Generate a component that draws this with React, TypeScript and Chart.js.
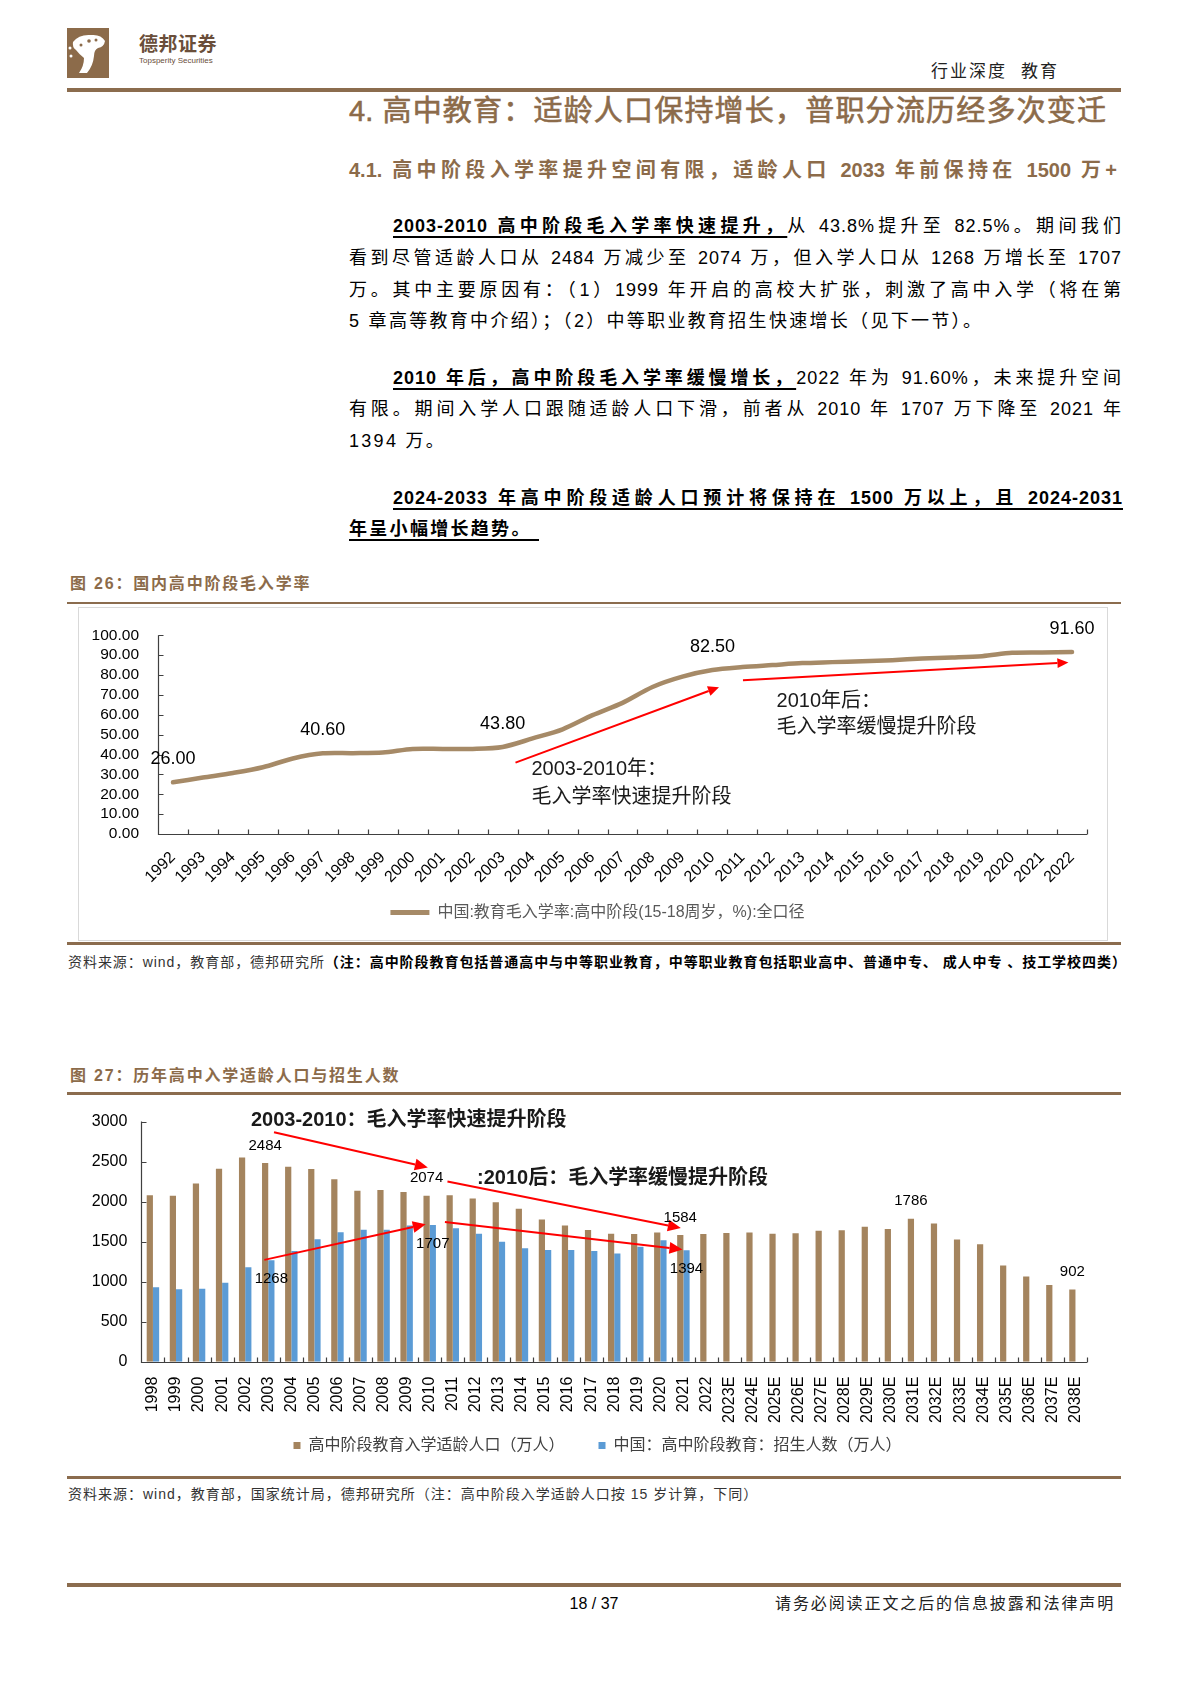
import React, { useEffect, useRef } from "react";
import { Chart, registerables } from "chart.js";

Chart.register(...registerables);

const SANS = "'Liberation Sans', Arial, 'Noto Sans CJK SC', sans-serif";
const BROWN = "#8C6B4A";
const LINE_BROWN = "#A68A67";
const BAR_BROWN = "#A4845E";
const BLUE = "#5B9BD5";
const RED = "#FF0000";
const AXIS = "#404040";

// ---------- Figure 26 data ----------
const rateYears = [
  "1992", "1993", "1994", "1995", "1996", "1997", "1998", "1999", "2000", "2001", "2002",
  "2003", "2004", "2005", "2006", "2007", "2008", "2009", "2010", "2011", "2012", "2013",
  "2014", "2015", "2016", "2017", "2018", "2019", "2020", "2021", "2022",
];
const rateValues = [
  26.0, 28.4, 30.7, 33.6, 38.0, 40.6, 40.7, 41.0, 42.8, 42.8, 42.8,
  43.8, 48.1, 52.7, 59.8, 66.0, 74.0, 79.2, 82.5, 84.0, 85.0, 86.0,
  86.5, 87.0, 87.5, 88.3, 88.8, 89.5, 91.2, 91.4, 91.6,
];
const rateSeriesName = "中国:教育毛入学率:高中阶段(15-18周岁，%):全口径";
const rateLabelIdx = [0, 5, 11, 18, 30];
// arrows: [fromCategoryIndex, fromValue, toCategoryIndex, toValue]
const rateArrows = [
  [11.43, 35.9, 18.22, 73.9],
  [19.02, 77.4, 29.88, 86.3],
];
const rateNotes = [
  { x: 11.96, y: 32.5, text: "2003-2010年：" },
  { x: 11.96, y: 18.6, text: "毛入学率快速提升阶段" },
  { x: 20.14, y: 66.8, text: "2010年后：" },
  { x: 20.14, y: 53.8, text: "毛入学率缓慢提升阶段" },
];

// ---------- Figure 27 data ----------
const popYears = [
  "1998", "1999", "2000", "2001", "2002", "2003", "2004", "2005", "2006", "2007", "2008",
  "2009", "2010", "2011", "2012", "2013", "2014", "2015", "2016", "2017", "2018", "2019",
  "2020", "2021", "2022", "2023E", "2024E", "2025E", "2026E", "2027E", "2028E", "2029E",
  "2030E", "2031E", "2032E", "2033E", "2034E", "2035E", "2036E", "2037E", "2038E",
];
const popAgeName = "高中阶段教育入学适龄人口（万人）";
const popAge = [
  2079, 2075, 2227, 2411, 2550, 2484, 2435, 2407, 2280, 2137, 2145,
  2120, 2074, 2079, 2038, 1993, 1911, 1776, 1703, 1645, 1600, 1596,
  1613, 1584, 1596, 1608, 1613, 1600, 1604, 1637, 1641, 1686,
  1658, 1786, 1727, 1527, 1469, 1203, 1064, 958, 902,
];
const enrollName = "中国：高中阶段教育：招生人数（万人）";
const enroll = [
  929, 905, 913, 986, 1179, 1268, 1383, 1531, 1617, 1650, 1650,
  1703, 1707, 1666, 1600, 1498, 1416, 1396, 1396, 1383, 1351, 1437,
  1519, 1394, null, null, null, null, null, null, null, null,
  null, null, null, null, null, null, null, null, null,
];
// value labels: [datasetIndex, categoryIndex, placement]
const popLabels: [number, number, string][] = [
  [0, 5, "above"], [0, 12, "above"], [0, 23, "above"], [0, 33, "above"], [0, 40, "above"],
  [1, 5, "below"], [1, 12, "below"], [1, 23, "below"],
];
const popArrows = [
  [5.25, 2868, 11.92, 2427],
  [12.77, 2251, 22.89, 1669],
  [4.83, 1272, 11.83, 1718],
  [12.66, 1747, 22.96, 1403],
];
const popNotes = [
  { x: 4.25, y: 3012, text: "2003-2010：毛入学率快速提升阶段" },
  { x: 14.05, y: 2283, text: ":2010后：毛入学率缓慢提升阶段" },
];

// ---------- plugins ----------
function drawArrow(ctx: any, x1: number, y1: number, x2: number, y2: number, head: number, lw: number) {
  const ang = Math.atan2(y2 - y1, x2 - x1);
  const hw = head * 0.45;
  const bx = x2 - head * Math.cos(ang);
  const by = y2 - head * Math.sin(ang);
  ctx.strokeStyle = RED;
  ctx.fillStyle = RED;
  ctx.lineWidth = lw;
  ctx.beginPath();
  ctx.moveTo(x1, y1);
  ctx.lineTo(bx, by);
  ctx.stroke();
  ctx.beginPath();
  ctx.moveTo(x2, y2);
  ctx.lineTo(bx + hw * Math.sin(ang), by - hw * Math.cos(ang));
  ctx.lineTo(bx - hw * Math.sin(ang), by + hw * Math.cos(ang));
  ctx.closePath();
  ctx.fill();
}

const insideAxes = (len: number) => ({
  id: "insideAxes",
  beforeDatasetsDraw(chart: any) {
    const { ctx, chartArea: a, scales } = chart;
    const x = scales.x;
    const y = scales.y;
    ctx.save();
    ctx.strokeStyle = AXIS;
    ctx.lineWidth = 1.2;
    ctx.beginPath();
    const bottom = Math.round(a.bottom) + 0.5;
    const left = Math.round(a.left) + 0.5;
    ctx.moveTo(left, a.top);
    ctx.lineTo(left, bottom);
    ctx.lineTo(a.right, bottom);
    y.ticks.forEach((_t: any, i: number) => {
      const py = Math.round(y.getPixelForTick(i)) + 0.5;
      ctx.moveTo(left, py);
      ctx.lineTo(left + len, py);
    });
    for (let i = 0; i <= x.ticks.length; i++) {
      const px = Math.round(x.getPixelForValue(i - 0.5)) + 0.5;
      ctx.moveTo(px, bottom);
      ctx.lineTo(px, bottom - len);
    }
    ctx.stroke();
    ctx.restore();
  },
});

const legendShift = (dx: number) => ({
  id: "legendShift",
  afterLayout(chart: any) {
    if (chart.legend) {
      chart.legend.left += dx;
      chart.legend.right += dx;
    }
  },
});

const notesPlugin = (arrows: number[][], notes: { x: number; y: number; text: string }[], font: string, head: number) => ({
  id: "notes",
  afterDatasetsDraw(chart: any) {
    const { ctx, scales } = chart;
    const x = scales.x;
    const y = scales.y;
    ctx.save();
    arrows.forEach(([a, b, c, d]) =>
      drawArrow(ctx, x.getPixelForValue(a), y.getPixelForValue(b), x.getPixelForValue(c), y.getPixelForValue(d), head, 2)
    );
    ctx.font = font;
    ctx.fillStyle = "#1a1a1a";
    ctx.textAlign = "left";
    ctx.textBaseline = "middle";
    notes.forEach((n) => ctx.fillText(n.text, x.getPixelForValue(n.x), y.getPixelForValue(n.y)));
    ctx.restore();
  },
});

const valueLabels = (items: [number, number, string][], font: string, fmt: (v: number) => string, above: number, below: number) => ({
  id: "valueLabels",
  afterDatasetsDraw(chart: any) {
    const { ctx } = chart;
    ctx.save();
    ctx.font = font;
    ctx.fillStyle = "#000";
    ctx.textAlign = "center";
    ctx.textBaseline = "middle";
    items.forEach(([ds, idx, place]) => {
      const el = chart.getDatasetMeta(ds).data[idx];
      const v = chart.data.datasets[ds].data[idx];
      if (!el || v == null) return;
      ctx.fillText(fmt(v), el.x, el.y + (place === "above" ? -above : below));
    });
    ctx.restore();
  },
});

// ---------- charts ----------
function RateChart() {
  const ref = useRef<HTMLCanvasElement>(null);
  useEffect(() => {
    const chart = new Chart(ref.current as HTMLCanvasElement, {
      type: "line",
      data: {
        labels: rateYears,
        datasets: [
          {
            label: rateSeriesName,
            data: rateValues,
            borderColor: LINE_BROWN,
            backgroundColor: LINE_BROWN,
            borderWidth: 4.5,
            tension: 0.3,
            pointRadius: 0,
            borderCapStyle: "round",
            borderJoinStyle: "round",
          } as any,
        ],
      },
      options: {
        animation: false,
        responsive: false,
        maintainAspectRatio: false,
        layout: { padding: { left: 0, right: 21, top: 21, bottom: 10.5 } },
        scales: {
          x: {
            offset: true,
            grid: { display: false, drawTicks: false },
            border: { display: false },
            ticks: {
              minRotation: 45,
              maxRotation: 45,
              autoSkip: false,
              padding: 14,
              color: "#000",
              font: { family: SANS, size: 16 },
            },
            afterFit: (s: any) => {
              s.height = 60.5;
            },
          },
          y: {
            min: 0,
            max: 100,
            grid: { display: false, drawTicks: false },
            border: { display: false },
            ticks: {
              stepSize: 10,
              autoSkip: false,
              padding: 19,
              color: "#000",
              font: { family: SANS, size: 15.5 },
              callback: (v: any) => Number(v).toFixed(2),
            },
            afterFit: (s: any) => {
              s.width = 80;
            },
          },
        },
        plugins: {
          legend: {
            position: "bottom",
            labels: {
              boxWidth: 39,
              boxHeight: 5,
              padding: 10,
              color: "#595959",
              font: { family: SANS, size: 16 },
              generateLabels: (c: any) =>
                (Chart.defaults.plugins.legend.labels as any)
                  .generateLabels(c)
                  .map((l: any) => ({ ...l, lineWidth: 0, fillStyle: LINE_BROWN })),
            },
          },
          tooltip: { enabled: false },
        },
      } as any,
      plugins: [
        insideAxes(5),
        legendShift(15),
        notesPlugin(rateArrows, rateNotes, `20px ${SANS}`, 11),
        valueLabels(
          rateLabelIdx.map((i) => [0, i, "above"] as [number, number, string]),
          `18px ${SANS}`,
          (v) => v.toFixed(2),
          23,
          0
        ),
      ],
    });
    return () => chart.destroy();
  }, []);
  return (
    <canvas
      ref={ref}
      width={1030}
      height={334}
      style={{ position: "absolute", left: 78, top: 607, width: 1030, height: 334 }}
    />
  );
}

function PopChart() {
  const ref = useRef<HTMLCanvasElement>(null);
  useEffect(() => {
    const chart = new Chart(ref.current as HTMLCanvasElement, {
      type: "bar",
      data: {
        labels: popYears,
        datasets: [
          {
            label: popAgeName,
            data: popAge,
            backgroundColor: BAR_BROWN,
            borderWidth: 0,
            categoryPercentage: 0.54,
            barPercentage: 1.0,
          },
          {
            label: enrollName,
            data: enroll,
            backgroundColor: BLUE,
            borderWidth: 0,
            categoryPercentage: 0.54,
            barPercentage: 1.0,
          },
        ],
      },
      options: {
        animation: false,
        responsive: false,
        maintainAspectRatio: false,
        layout: { padding: { left: 0, right: 34, top: 20, bottom: 6.5 } },
        scales: {
          x: {
            grid: { display: false, drawTicks: false },
            border: { display: false },
            ticks: {
              minRotation: 90,
              maxRotation: 90,
              autoSkip: false,
              padding: 15,
              color: "#000",
              font: { family: SANS, size: 16 },
            },
            afterFit: (s: any) => {
              s.height = 65.8;
            },
          },
          y: {
            min: 0,
            max: 3000,
            grid: { display: false, drawTicks: false },
            border: { display: false },
            ticks: {
              stepSize: 500,
              autoSkip: false,
              padding: 14,
              color: "#000",
              font: { family: SANS, size: 16 },
              callback: (v: any) => String(v),
            },
            afterFit: (s: any) => {
              s.width = 73.4;
            },
          },
        },
        plugins: {
          legend: {
            position: "bottom",
            labels: {
              boxWidth: 7,
              boxHeight: 7,
              padding: 10,
              color: "#404040",
              font: { family: SANS, size: 16 },
              generateLabels: (c: any) =>
                (Chart.defaults.plugins.legend.labels as any)
                  .generateLabels(c)
                  .map((l: any, i: number) => ({ ...l, text: i === 0 ? l.text + "\u3000\u3000" : l.text })),
            },
          },
          tooltip: { enabled: false },
        },
      } as any,
      plugins: [
        insideAxes(5),
        legendShift(20),
        notesPlugin(popArrows, popNotes, `bold 20px ${SANS}`, 13),
        valueLabels(popLabels, `15px ${SANS}`, (v) => String(v), 17.5, 19),
      ],
    });
    return () => chart.destroy();
  }, []);
  return (
    <canvas
      ref={ref}
      width={1053}
      height={372}
      style={{ position: "absolute", left: 68, top: 1098, width: 1053, height: 372 }}
    />
  );
}

// ---------- page helpers ----------
type TL = {
  x: number;
  y: number;
  w?: number;
  size: number;
  justify?: boolean;
  style?: React.CSSProperties;
  children: React.ReactNode;
};
function T({ x, y, w, size, justify, style, children }: TL) {
  const lh = Math.round(size * 1.4);
  return (
    <div
      style={{
        position: "absolute",
        left: x,
        top: y - lh / 2,
        width: w,
        height: lh,
        lineHeight: `${lh}px`,
        fontSize: size,
        whiteSpace: w ? "normal" : "nowrap",
        textAlign: justify ? "justify" : "left",
        textAlignLast: justify ? "justify" : "auto",
        ...style,
      } as React.CSSProperties}
    >
      {children}
    </div>
  );
}

const BU: React.CSSProperties = {
  fontWeight: "bold",
  textDecoration: "underline",
  textDecorationThickness: "1.5px",
  textUnderlineOffset: "4px",
};

function Rule({ top, h }: { top: number; h: number }) {
  return (
    <div style={{ position: "absolute", left: 67, top, width: 1054, height: h, background: "#8B6C4E" }} />
  );
}

export default function App() {
  const body: React.CSSProperties = { color: "#000", letterSpacing: 1 };
  return (
    <div
      style={{
        position: "absolute",
        left: 0,
        top: 0,
        width: 1190,
        height: 1684,
        background: "#fff",
        fontFamily: SANS,
        overflow: "hidden",
      }}
    >
      {/* header */}
      <svg width={42} height={50} style={{ position: "absolute", left: 67, top: 28 }}>
        <rect x={0} y={0} width={42} height={50} fill={BROWN} />
        <path d="M6 14 Q12 6 24 7 Q34 6 38 13 Q37 19 31 20 Q27 22 27 28 Q26 38 20 45 L12 45 Q17 38 17 30 Q12 26 9 22 Q5 19 6 14 Z" fill="#fff" />
        <circle cx={22} cy={13} r={1.8} fill={BROWN} />
        <circle cx={29} cy={12} r={1.5} fill={BROWN} />
        <circle cx={14} cy={17} r={1.5} fill={BROWN} />
        <circle cx={3} cy={20} r={1.5} fill="#fff" />
        <circle cx={4} cy={28} r={1.5} fill="#fff" />
      </svg>
      <T x={139} y={44} size={19} style={{ fontWeight: "bold", color: "#6A4E3A", letterSpacing: 0.5 }}>
        德邦证券
      </T>
      <T x={139} y={60} size={8} style={{ color: "#6A4E3A" }}>
        Topsperity Securities
      </T>
      <T x={931} y={72} size={17} style={{ color: "#222", letterSpacing: 2 }}>
        行业深度
      </T>
      <T x={1021} y={72} size={17} style={{ color: "#222", letterSpacing: 2 }}>
        教育
      </T>
      <Rule top={88} h={4} />

      {/* headings */}
      <T
        x={349}
        y={111}
        w={757}
        size={29}
        justify
        style={{ color: BROWN, WebkitTextStroke: `0.6px ${BROWN}` } as React.CSSProperties}
      >
        4. 高中教育：适龄人口保持增长，普职分流历经多次变迁
      </T>
      <T x={349} y={170} w={768} size={20} justify style={{ color: BROWN, fontWeight: "bold" }}>
        4.1. 高中阶段入学率提升空间有限，适龄人口 2033 年前保持在 1500 万+
      </T>

      {/* paragraph 1 */}
      <T x={393} y={226.6} w={729} size={18} justify style={body}>
        <span style={BU}>2003-2010 高中阶段毛入学率快速提升，</span>从 43.8%提升至 82.5%。期间我们
      </T>
      <T x={349} y={258.8} w={773} size={18} justify style={body}>
        看到尽管适龄人口从 2484 万减少至 2074 万，但入学人口从 1268 万增长至 1707
      </T>
      <T x={349} y={290} w={773} size={18} justify style={body}>
        万。其中主要原因有：（1）1999 年开启的高校大扩张，刺激了高中入学（将在第
      </T>
      <T x={349} y={321} size={18} style={{ ...body, letterSpacing: 2.3 }}>
        5 章高等教育中介绍）；（2）中等职业教育招生快速增长（见下一节）。
      </T>

      {/* paragraph 2 */}
      <T x={393} y={378} w={729} size={18} justify style={body}>
        <span style={BU}>2010 年后，高中阶段毛入学率缓慢增长，</span>2022 年为 91.60%，未来提升空间
      </T>
      <T x={349} y={409} w={773} size={18} justify style={body}>
        有限。期间入学人口跟随适龄人口下滑，前者从 2010 年 1707 万下降至 2021 年
      </T>
      <T x={349} y={441} size={18} style={{ ...body, letterSpacing: 2.3 }}>
        1394 万。
      </T>

      {/* paragraph 3 */}
      <T x={393} y={498} w={730} size={18} justify style={body}>
        <span style={BU}>2024-2033 年高中阶段适龄人口预计将保持在 1500 万以上，且 2024-2031</span>
      </T>
      <T x={349} y={529.5} size={18} style={{ ...body, letterSpacing: 2.3 }}>
        <span style={BU}>年呈小幅增长趋势。&nbsp;</span>
      </T>

      {/* figure 26 */}
      <T x={70} y={584} size={16} style={{ color: BROWN, fontWeight: "bold", letterSpacing: 1.8 }}>
        图 26：国内高中阶段毛入学率
      </T>
      <Rule top={601.5} h={2.5} />
      <div
        style={{
          position: "absolute",
          left: 78,
          top: 607,
          width: 1030,
          height: 334,
          border: "1px solid #D9D9D9",
          boxSizing: "border-box",
        }}
      />
      <RateChart />
      <Rule top={942} h={2.5} />
      <T x={68} y={962} size={14} style={{ color: "#333", letterSpacing: 0.95 }}>
        资料来源：wind，教育部，德邦研究所
        <span style={{ fontWeight: "bold", color: "#000" }}>
          （注：高中阶段教育包括普通高中与中等职业教育，中等职业教育包括职业高中、普通中专、 成人中专 、技工学校四类）
        </span>
      </T>

      {/* figure 27 */}
      <T x={70} y={1076} size={16} style={{ color: BROWN, fontWeight: "bold", letterSpacing: 1.8 }}>
        图 27：历年高中入学适龄人口与招生人数
      </T>
      <Rule top={1092} h={2.5} />
      <PopChart />
      <Rule top={1476} h={2.5} />
      <T x={68} y={1494} size={14} style={{ color: "#333", letterSpacing: 1 }}>
        资料来源：wind，教育部，国家统计局，德邦研究所（注：高中阶段入学适龄人口按 15 岁计算，下同）
      </T>

      {/* footer */}
      <Rule top={1582.5} h={4} />
      <div
        style={{
          position: "absolute",
          left: 544,
          top: 1593,
          width: 100,
          textAlign: "center",
          fontSize: 16,
          lineHeight: "22px",
          color: "#000",
        }}
      >
        18 / 37
      </div>
      <T x={775} y={1604} size={16} style={{ color: "#222", letterSpacing: 1.9 }}>
        请务必阅读正文之后的信息披露和法律声明
      </T>
    </div>
  );
}
